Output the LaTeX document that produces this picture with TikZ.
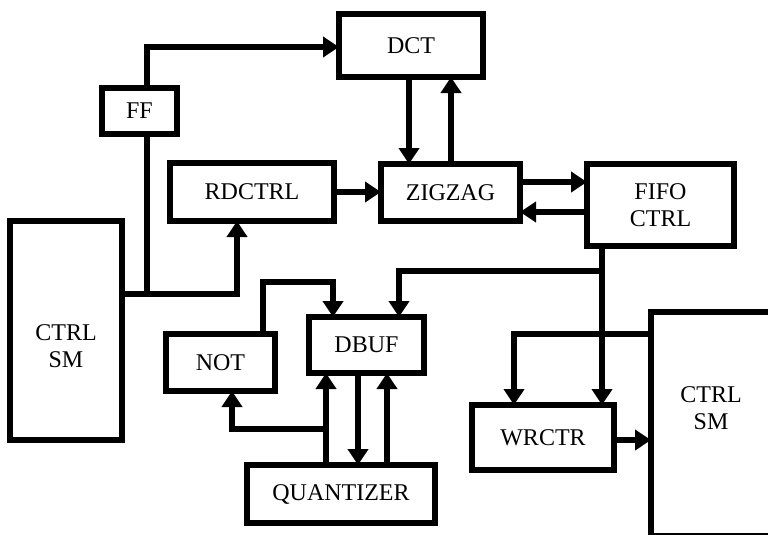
\documentclass[tikz,border=0pt]{standalone}
\usepackage{fontspec}
\setmainfont{Liberation Serif}
\usetikzlibrary{arrows.meta}

\tikzset{
  blk/.style={draw, line width=6pt, rectangle, inner sep=0pt, outer sep=0pt,
              align=center, font=\fontsize{24}{27}\selectfont},
  txt/.style={inner sep=0pt, align=center, font=\fontsize{24}{27}\selectfont},
  wire/.style={line width=6pt, line cap=rect, line join=miter},
  arr/.style={wire, -{Triangle[length=16pt,width=20pt]}},
}

\begin{document}
\begin{tikzpicture}[x=1pt, y=-1pt]
\useasboundingbox (0,0) rectangle (768,535);

% blocks (centre, size measured between stroke centres)
\node[blk, minimum width=144pt, minimum height=63pt] (dct)    at (411,45.5)   {DCT};
\node[blk, minimum width=75pt,  minimum height=46pt] (ff)     at (139.5,111)  {FF};
\node[blk, minimum width=164pt, minimum height=58pt] (rdctrl) at (252,192)    {RDCTRL};
\node[blk, minimum width=139pt, minimum height=57pt] (zigzag) at (450.5,192.5){ZIGZAG};
\node[blk, minimum width=147pt, minimum height=82pt] (fifo)   at (660.5,205)  {FIFO\\CTRL};
\node[blk, minimum width=112pt, minimum height=219pt] (smA)   at (66,330.5)   {};
\node[txt] (smAtext) at (66,346) {CTRL\\SM};
\node[blk, minimum width=115pt, minimum height=56pt] (dbuf)   at (366.5,345)  {DBUF};
\node[blk, minimum width=109pt, minimum height=57pt] (notb)   at (220.5,362.5){NOT};
\node[blk, minimum width=188pt, minimum height=58pt] (quant)  at (341,494)    {QUANTIZER};
\node[blk, minimum width=142pt, minimum height=65pt] (wrctr)  at (543,437.5)  {WRCTR};
\node[blk, minimum width=124pt, minimum height=224pt] (smB)   at (713,423.5)  {};
\node[txt] (smBtext) at (711,408) {CTRL\\SM};

% routing columns and rows
\coordinate (cFF)   at (147,0);
\coordinate (cRD)   at (237,0);
\coordinate (cDn)   at (409,0);
\coordinate (cUp)   at (451,0);
\coordinate (cFi)   at (602,0);
\coordinate (cDb)   at (399,0);
\coordinate (cNo)   at (263,0);
\coordinate (cNi)   at (333,0);
\coordinate (cQ1)   at (326,0);
\coordinate (cQ2)   at (358,0);
\coordinate (cQ3)   at (387,0);
\coordinate (cNu)   at (232,0);
\coordinate (cWr)   at (514,0);
\coordinate (rTop)  at (0,47);
\coordinate (rSm)   at (0,294);
\coordinate (rZ1)   at (0,182);
\coordinate (rZ2)   at (0,212);
\coordinate (rFi)   at (0,271);
\coordinate (rNo)   at (0,282);
\coordinate (rQn)   at (0,429);
\coordinate (rSb)   at (0,334);
\coordinate (rWr)   at (0,440);

\coordinate (jSm) at (cFF |- rSm);
\coordinate (jFi) at (cFi |- rFi);
\coordinate (jQn) at (cQ1 |- rQn);

% FF -> DCT
\draw[arr] (ff.north -| cFF) |- (dct.west |- rTop);
% CTRL SM -> RDCTRL, tap to FF
\draw[arr] (smA.east |- rSm) -| (rdctrl.south -| cRD);
\draw[wire] (jSm) -- (ff.south -| cFF);
% RDCTRL -> ZIGZAG
\draw[arr] (rdctrl.east) -- (zigzag.west |- rdctrl.east);
% DCT <-> ZIGZAG
\draw[arr] (dct.south -| cDn) -- (zigzag.north -| cDn);
\draw[arr] (zigzag.north -| cUp) -- (dct.south -| cUp);
% ZIGZAG <-> FIFO CTRL
\draw[arr] (zigzag.east |- rZ1) -- (fifo.west |- rZ1);
\draw[arr] (fifo.west |- rZ2) -- (zigzag.east |- rZ2);
% FIFO CTRL -> WRCTR and DBUF
\draw[arr] (fifo.south -| cFi) -- (wrctr.north -| cFi);
\draw[arr] (jFi) -| (dbuf.north -| cDb);
% NOT -> DBUF
\draw[arr] (notb.north -| cNo) |- (cNi |- rNo) -- (dbuf.north -| cNi);
% QUANTIZER <-> DBUF
\draw[arr] (quant.north -| cQ1) -- (dbuf.south -| cQ1);
\draw[arr] (dbuf.south -| cQ2) -- (quant.north -| cQ2);
\draw[arr] (quant.north -| cQ3) -- (dbuf.south -| cQ3);
% QUANTIZER -> NOT
\draw[arr] (jQn) -| (notb.south -| cNu);
% CTRL SM -> WRCTR
\draw[arr] (smB.west |- rSb) -| (wrctr.north -| cWr);
% WRCTR -> CTRL SM
\draw[arr] (wrctr.east |- rWr) -- (smB.west |- rWr);
\end{tikzpicture}
\end{document}
